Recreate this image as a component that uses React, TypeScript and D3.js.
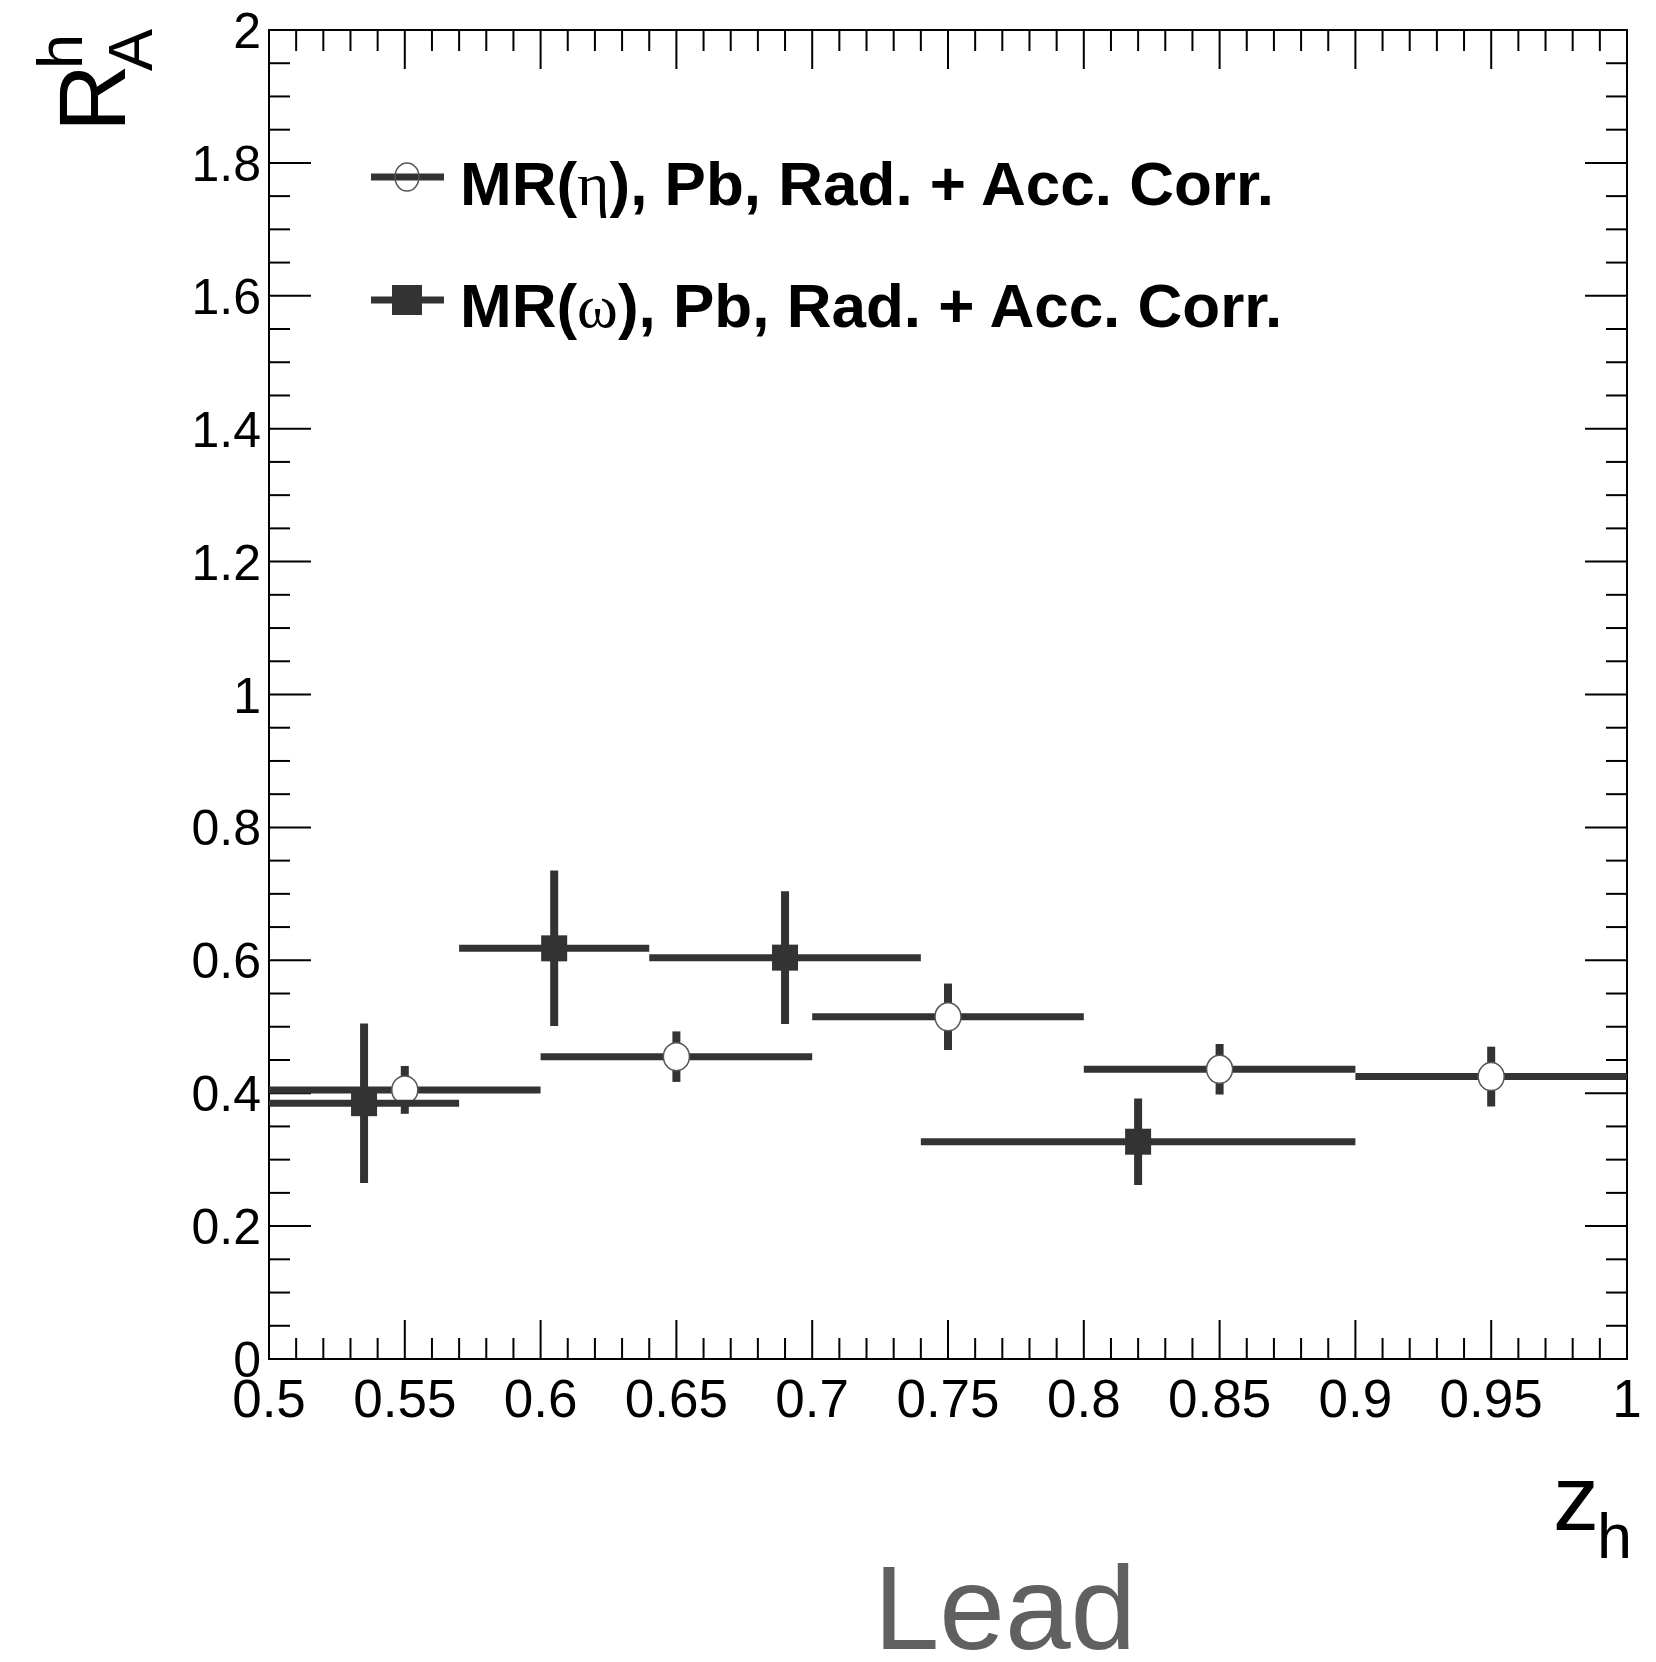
import * as d3 from "d3";

// eta (open circles): bin edges, centre, value, error
const etaLow = [0.5, 0.6, 0.7, 0.8, 0.9];
const etaHigh = [0.6, 0.7, 0.8, 0.9, 1.0];
const etaX = [0.55, 0.65, 0.75, 0.85, 0.95];
const etaY = [0.405, 0.455, 0.515, 0.436, 0.425];
const etaErr = [0.036, 0.038, 0.05, 0.038, 0.045];

// omega (filled squares)
const omegaLow = [0.5, 0.57, 0.64, 0.74];
const omegaHigh = [0.57, 0.64, 0.74, 0.9];
const omegaX = [0.535, 0.605, 0.69, 0.82];
const omegaY = [0.385, 0.618, 0.604, 0.327];
const omegaErr = [0.12, 0.117, 0.1, 0.065];

const legendLabels = ["MR(", "), Pb, Rad. + Acc. Corr."];
const legendGreek = ["η", "ω"];

const W = 1656;
const H = 1662;
const left = 269;
const right = 1627;
const top = 30;
const bottom = 1359;

const ink = "#333333";
const font = "'Liberation Sans', Arial, Helvetica, sans-serif";

export default function App() {
    const x = d3.scaleLinear().domain([0.5, 1]).range([left, right]);
    const y = d3.scaleLinear().domain([0, 2]).range([bottom, top]);

    const yMajor = d3.range(0, 11).map((i) => +(i * 0.2).toFixed(2));
    const yMinor = d3.range(0, 41).map((i) => +(i * 0.05).toFixed(2));
    const xMajor = d3.range(0, 11).map((i) => +(0.5 + i * 0.05).toFixed(2));
    const xMinor = d3.range(0, 51).map((i) => +(0.5 + i * 0.01).toFixed(2));
    const fmt = d3.format("~g");

    const etaPts = etaX.map((v, i) => ({
        x: v, y: etaY[i], lo: etaLow[i], hi: etaHigh[i], e: etaErr[i],
    }));
    const omegaPts = omegaX.map((v, i) => ({
        x: v, y: omegaY[i], lo: omegaLow[i], hi: omegaHigh[i], e: omegaErr[i],
    }));

    const sq = 26;
    const r = 13;

    return (
        <svg
            width={W}
            height={H}
            style={{ position: "absolute", left: 0, top: 0, background: "#fff" }}
            fontFamily={font}
        >
            <rect width={W} height={H} fill="#fff" />

            {/* frame */}
            <rect
                x={left}
                y={top}
                width={right - left}
                height={bottom - top}
                fill="none"
                stroke="#000"
                strokeWidth={2}
            />

            {/* y ticks, left and right */}
            {yMinor.map((v, i) => {
                const len = yMajor.includes(v) ? 42 : 21;
                return (
                    <g key={"yt" + i} stroke="#000" strokeWidth={2}>
                        <line x1={left} x2={left + len} y1={y(v)} y2={y(v)} />
                        <line x1={right} x2={right - len} y1={y(v)} y2={y(v)} />
                    </g>
                );
            })}
            {/* x ticks, bottom and top */}
            {xMinor.map((v, i) => {
                const len = xMajor.includes(v) ? 39 : 21;
                return (
                    <g key={"xt" + i} stroke="#000" strokeWidth={2}>
                        <line x1={x(v)} x2={x(v)} y1={bottom} y2={bottom - len} />
                        <line x1={x(v)} x2={x(v)} y1={top} y2={top + len} />
                    </g>
                );
            })}

            {/* y labels */}
            {yMajor.map((v, i) => (
                <text
                    key={"yl" + i}
                    x={left - 8}
                    y={y(v) + 18}
                    textAnchor="end"
                    fontSize={50}
                    fill="#000"
                >
                    {fmt(v)}
                </text>
            ))}
            {/* x labels */}
            {xMajor.map((v, i) => (
                <text
                    key={"xl" + i}
                    x={x(v)}
                    y={bottom + 58}
                    textAnchor="middle"
                    fontSize={53}
                    fill="#000"
                >
                    {fmt(v)}
                </text>
            ))}

            {/* y title R^h_A */}
            <g transform="translate(125,127) rotate(-90)" fill="#000">
                <text x={-5} y={0} fontSize={94}>R</text>
                <text x={58} y={-43} fontSize={63}>h</text>
                <text x={56} y={27} fontSize={63}>A</text>
            </g>

            {/* x title z_h */}
            <g fill="#000">
                <text x={1553} y={1530} fontSize={92}>z</text>
                <text x={1597} y={1558} fontSize={63}>h</text>
            </g>

            {/* eta series */}
            {etaPts.map((p, i) => (
                <g key={"e" + i}>
                    <line
                        x1={x(p.lo)} x2={x(p.hi)} y1={y(p.y)} y2={y(p.y)}
                        stroke={ink} strokeWidth={7}
                    />
                    <line
                        x1={x(p.x)} x2={x(p.x)} y1={y(p.y - p.e)} y2={y(p.y + p.e)}
                        stroke={ink} strokeWidth={8}
                    />
                    <ellipse
                        cx={x(p.x)} cy={y(p.y)} rx={r} ry={r + 1}
                        fill="#fff" stroke="#555" strokeWidth={1.5}
                    />
                </g>
            ))}

            {/* omega series */}
            {omegaPts.map((p, i) => (
                <g key={"o" + i}>
                    <line
                        x1={x(p.lo)} x2={x(p.hi)} y1={y(p.y)} y2={y(p.y)}
                        stroke={ink} strokeWidth={7}
                    />
                    <line
                        x1={x(p.x)} x2={x(p.x)} y1={y(p.y - p.e)} y2={y(p.y + p.e)}
                        stroke={ink} strokeWidth={8}
                    />
                    <rect
                        x={x(p.x) - sq / 2} y={y(p.y) - sq / 2} width={sq} height={sq}
                        fill={ink}
                    />
                </g>
            ))}

            {/* legend */}
            {legendGreek.map((g, i) => {
                const cy = i === 0 ? 177 : 300;
                const base = i === 0 ? 205 : 327;
                return (
                    <g key={"lg" + i}>
                        <line x1={371} x2={444} y1={cy} y2={cy} stroke={ink} strokeWidth={7} />
                        {i === 0 ? (
                            <ellipse cx={407} cy={cy} rx={12} ry={14} fill="none" stroke="#555" strokeWidth={1.5} />
                        ) : (
                            <rect x={407 - 15} y={cy - 15} width={30} height={30} fill={ink} />
                        )}
                        <text x={460} y={base} fontSize={62} fontWeight="bold" fill="#000">
                            {legendLabels[0]}
                            <tspan fontFamily="'Liberation Serif', 'DejaVu Serif', serif" fontWeight="normal">
                                {g}
                            </tspan>
                            {legendLabels[1]}
                        </text>
                    </g>
                );
            })}

            {/* Lead label */}
            <text x={1005} y={1649} textAnchor="middle" fontSize={118} fill="#606060">
                Lead
            </text>
        </svg>
    );
}
